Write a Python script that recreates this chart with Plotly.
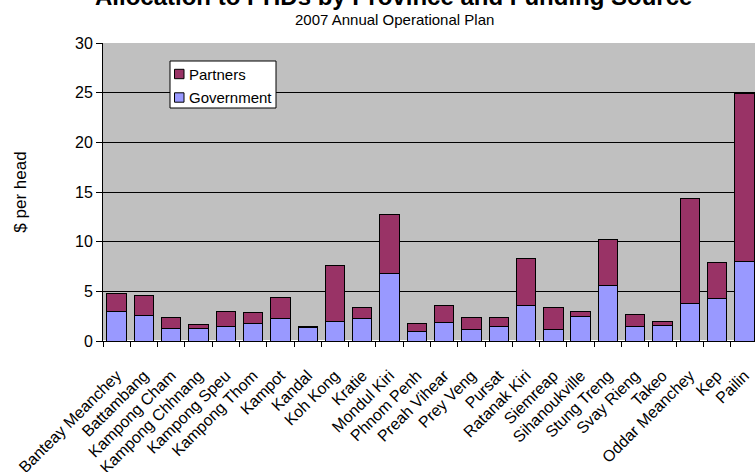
import plotly.graph_objects as go

provinces = ["Banteay Meanchey", "Battambang", "Kampong Cham", "Kampong Chhnang",
             "Kampong Speu", "Kampong Thom", "Kampot", "Kandal", "Koh Kong", "Kratie",
             "Mondul Kiri", "Phnom Penh", "Preah Vihear", "Prey Veng", "Pursat",
             "Ratanak Kiri", "Siemreap", "Sihanoukville", "Stung Treng", "Svay Rieng",
             "Takeo", "Oddar Meanchey", "Kep", "Pailin"]
government = [2.95, 2.58, 1.24, 1.28, 1.44, 1.74, 2.31, 1.34, 2.01, 2.28,
              6.80, 0.98, 1.82, 1.17, 1.41, 3.60, 1.17, 2.42, 5.58, 1.48,
              1.61, 3.80, 4.24, 8.04]
totals = [4.76, 4.63, 2.35, 1.68, 2.95, 2.82, 4.33, 1.51, 7.65, 3.35,
          12.70, 1.72, 3.56, 2.35, 2.38, 8.34, 3.39, 2.96, 10.26, 2.65,
          1.92, 14.33, 7.87, 24.87]
partners = [round(t - g, 2) for t, g in zip(totals, government)]

series_names = ["Partners", "Government"]
series_colors = {"Partners": "#993366", "Government": "#9999FF"}

FONT = "Liberation Sans, Arial, sans-serif"

# plot area in pixels
L, R, T, B = 103, 755, 43, 341
PW, PH = R - L, B - T


def px(x):
    return (x - L) / PW


def py(y):
    return (B - y) / PH


fig = go.Figure()
fig.add_trace(go.Bar(x=provinces, y=government, name="Government", showlegend=False,
                     marker=dict(color=series_colors["Government"],
                                 line=dict(color="black", width=1))))
fig.add_trace(go.Bar(x=provinces, y=partners, name="Partners", showlegend=False,
                     marker=dict(color=series_colors["Partners"],
                                 line=dict(color="black", width=1))))

shapes = [
    dict(type="rect", xref="paper", yref="paper",
         x0=px(170), x1=px(276), y0=py(108), y1=py(61),
         fillcolor="white", line=dict(color="black", width=1), layer="above"),
]
annotations = [
    dict(text="<b>Allocation to PHDs by Province and Funding Source</b>",
         xref="paper", yref="paper", x=px(393), y=py(12),
         xanchor="center", yanchor="bottom", showarrow=False,
         font=dict(size=24, family=FONT)),
    dict(text="2007 Annual Operational Plan",
         xref="paper", yref="paper", x=px(394), y=py(30),
         xanchor="center", yanchor="bottom", showarrow=False,
         font=dict(size=15, family=FONT)),
]
for name, cy in zip(series_names, [74, 97.5]):
    shapes.append(dict(type="rect", xref="paper", yref="paper",
                       x0=px(174.5), x1=px(184), y0=py(cy + 4.7), y1=py(cy - 4.7),
                       fillcolor=series_colors[name], line=dict(color="black", width=1),
                       layer="above"))
    annotations.append(dict(text=name, xref="paper", yref="paper",
                            x=px(187), y=py(cy), xanchor="left", yanchor="middle",
                            showarrow=False, font=dict(size=15, family=FONT)))

fig.update_layout(
    width=755, height=472,
    barmode="stack", bargap=0.29,
    paper_bgcolor="white", plot_bgcolor="#C0C0C0",
    margin=dict(l=L, r=755 - R, t=T, b=472 - B, autoexpand=False),
    font=dict(family=FONT, size=13, color="black"),
    showlegend=False,
    xaxis=dict(range=[-0.5, 23.39], tickangle=-45, tickson="boundaries",
               ticks="outside", ticklen=5, tickcolor="black",
               showline=True, linecolor="black", linewidth=1,
               ticklabelstandoff=18, automargin=False,
               tickfont=dict(size=16, family=FONT)),
    yaxis=dict(range=[0, 30], dtick=5, ticks="outside", ticklen=6, tickcolor="black",
               showline=True, linecolor="black", linewidth=1,
               showgrid=True, gridcolor="black", gridwidth=1, automargin=False,
               tickfont=dict(size=16, family=FONT),
               title=dict(text="$ per head", font=dict(size=17, family=FONT), standoff=44)),
    shapes=shapes,
    annotations=annotations,
)

fig.write_html("out.html")
